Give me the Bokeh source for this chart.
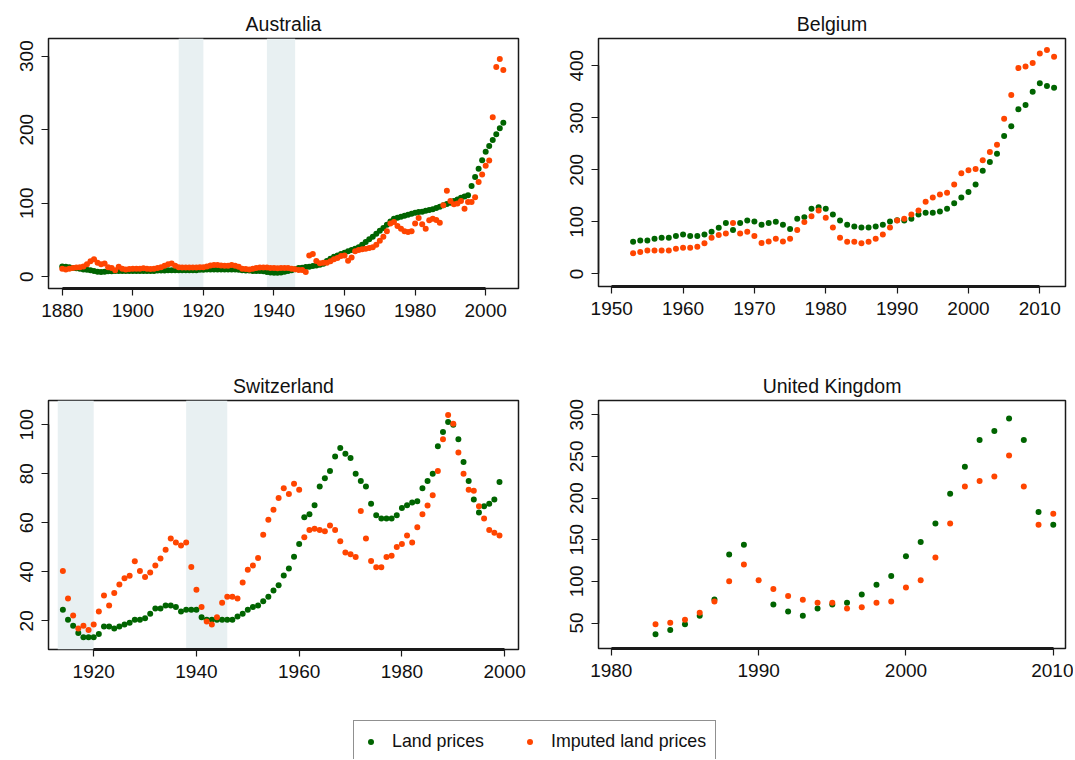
from bokeh.plotting import figure
from bokeh.layouts import column, row
from bokeh.models import BoxAnnotation, Legend, LegendItem, Range1d, FixedTicker, ColumnDataSource
from bokeh.embed import file_html
from bokeh.resources import INLINE

GREEN = "#006400"
ORANGE = "#FF4500"
SHADE = "#E8F0F2"
FONT = "Liberation Sans"

# ---------------- data ----------------
aus_years = list(range(1880, 2006))
aus_land = [
    14, 13.5, 13, 12, 11.5, 11, 10, 9.5, 9, 8,
    7, 6.5, 7, 7.5, 7.5, 8, 8, 8, 8, 8,
    8, 8, 8, 8, 8, 8, 8, 8.5, 8.5, 8.5,
    9, 9, 9, 9, 9, 9, 9, 9, 9, 9.5,
    9.5, 10, 10, 10, 10, 10, 10, 10, 10, 10,
    9.5, 9, 8.5, 8.5, 8, 8, 8, 7.5, 6.5, 6,
    5.5, 5.5, 6, 7, 8, 9,
    10.1, 11.9, 12.4, 13.3, 13.7, 14.6, 15.5, 16.4, 17.8, 21.4,
    24.6, 27.3, 29.1, 30.9, 32.8, 34.6, 36.4, 38.2, 40, 43.6,
    47.3, 50.9, 54.5, 58.6, 62.7, 66.3, 70.8, 75.3, 79, 80.3,
    81.7, 83.1, 84.4, 85.8, 87.1, 88, 88.5, 89.8, 90.7, 91.7,
    93.5, 95.3, 97.1, 98.9, 100.7, 103, 105.2, 107.5, 109.3, 110.7,
    123.4, 135.6, 146.9, 158.3, 170, 177.7, 185.9, 193.6, 201.8, 209.5,
]
aus_imputed = [
    11, 10, 11, 12, 12.5, 13, 14, 17, 21, 24,
    19, 17, 18, 13, 12, 9, 13.5, 11, 10, 10.5,
    11, 11, 11, 11.5, 11, 10.5, 11, 12, 13, 15,
    17, 18, 15, 13, 12.5, 12.5, 12.5, 12.5, 12.5, 13,
    13, 14, 15.5, 16, 16, 15.5, 15, 15, 16, 15,
    13.5, 11, 10.5, 10, 11, 12, 12.5, 12.5, 12.5, 12,
    12, 11.5, 12, 12, 12, 11,
    10.1, 9.2, 9.2, 6.5, 29.1, 30.9, 21.4, 18.3, 19.2, 19.2,
    21, 23.7, 25.5, 28.2, 29.1, 21.9, 26.4, 34.6, 36.4, 37.3,
    38.2, 39.1, 40, 43.6, 49.1, 54.5, 61.8, 72.6, 74.4, 69,
    65.4, 61.8, 60.8, 61.8, 72.6, 79.9, 71.3, 65.4, 76.7, 79,
    77.2, 73.5, 97.1, 117, 103, 98.5, 99.8, 103, 92.6, 101.6,
    101.6, 108, 129, 139, 151, 158, 217, 285, 296, 281,
]

bel_years = list(range(1953, 2013))
bel_land = [
    61.9, 64.4, 64, 67.6, 69.5, 69.5, 72.7, 75.9, 72.7, 72.7,
    75.9, 81, 88.7, 97.6, 84.2, 97.6, 102.7, 100.8, 94.4, 97.6,
    100.2, 94.4, 86.1, 105.9, 109.1, 125, 128.2, 125, 114.2, 102.7,
    94.4, 91.2, 89.3, 89.3, 91.2, 94.4, 100.8, 103, 102.7, 105.9,
    114.2, 117.4, 117.4, 119.9, 125, 135.9, 146.7, 157.6, 171.6, 198.4,
    215, 231, 264.8, 283.9, 316.4, 324.7, 350.2, 366.2, 361.1, 357.9,
]
bel_imputed = [
    39.6, 42, 45, 45, 45, 45, 48.5, 50.4, 50.4, 52.3,
    58.7, 69.5, 74.6, 77.8, 97.6, 77.8, 81, 72.7, 59.3, 62.5,
    67.6, 62.5, 67.6, 84.2, 99.5, 111, 121.9, 107.8, 89.3, 69.5,
    61.9, 61.9, 58.7, 61.9, 67.6, 75.9, 89.3, 102.7, 105.9, 114.2,
    121.9, 138.4, 146.7, 152.5, 155.7, 171.6, 193.3, 199, 201.6, 218.2,
    234.1, 248.2, 297.9, 343.9, 395.5, 398.7, 405.1, 423.6, 430, 417.2,
]

che_years = list(range(1914, 2000))
che_land = [
    24.5, 20.4, 18, 15, 13.3, 13.3, 13.3, 14.6, 17.7, 17.7,
    16.9, 17.7, 18.5, 19.2, 20.4, 20.4, 21.1, 22.9, 25, 25,
    26.3, 26.3, 25.6, 23.8, 24.5, 24.5, 24.5, 21.5, 20.4, 20.4,
    20.4, 20.4, 20.4, 20.4, 21.8, 22.9, 24.5, 25.6, 26.3, 28,
    29.8, 32.4, 34.5, 38.5, 41.4, 46.1, 51.3, 62.3, 63.5, 67.2,
    74.8, 78.2, 81.1, 87.1, 90.5, 88.2, 86.4, 80, 77.1, 74.8,
    67.8, 63.1, 61.8, 61.8, 61.8, 63.1, 66, 67.2, 68.3, 68.8,
    74.1, 77.1, 80, 91.2, 97, 101.1, 100, 94.1, 84.8, 77.1,
    69.5, 64.2, 66.7, 67.8, 69.5, 76.6,
]
che_imputed = [
    40.3, 29.1, 22.2, 16.9, 18, 16.3, 18.5, 23.8, 30.3, 26.3,
    31.4, 34.8, 37.4, 38.4, 44.3, 40.3, 37.9, 39.7, 42.6, 45.4,
    49, 53.6, 52, 50.7, 52, 42, 32.7, 25.6, 19.7, 18.5,
    21.5, 27.4, 29.8, 29.8, 29.1, 35.6, 40.8, 42.6, 45.6, 55.1,
    61.2, 65.3, 70.1, 74.1, 71.8, 75.9, 73.5, 54.1, 57.1, 57.6,
    57.1, 56.5, 58.9, 57.1, 52.5, 47.9, 47.2, 46, 64.8, 53.6,
    44.4, 41.9, 41.9, 46, 46.6, 50.1, 51.3, 54.8, 52, 58.2,
    63.5, 67.1, 71.2, 81.1, 94.1, 104, 100.4, 88.7, 80, 73.5,
    73.1, 66.7, 61.8, 57.1, 55.9, 54.8,
]

NAN = float("nan")
gbr_years = list(range(1983, 2011))
gbr_land = [
    36.5, 41.7, 48.4, 58.7, 78.2, 132.1, 144, NAN, 72.2, 63.9,
    58.7, 67.5, 72.2, 74.2, 84.1, 96, 106.3, 130.2, 147.2, 169.4,
    205.2, 237.7, 269.8, 280.6, 295.6, 269.8, 183.3, 167.9,
]
gbr_imputed = [
    48.4, 50.4, 54, 62.3, 75.8, 100, 120.2, 101.2, 90.9, 82.5,
    77.8, 74.2, 74.2, 67.5, 69, 74.2, 75.8, 92.5, 101.2, 128.6,
    169.4, 213.9, 220.6, 225.8, 251.2, 213.9, 167.9, 181.3,
]

war_periods = [(1913, 1920), (1938, 1946)]

aus_xticks = [1880, 1900, 1920, 1940, 1960, 1980, 2000]
aus_yticks = [0, 100, 200, 300]
bel_xticks = [1950, 1960, 1970, 1980, 1990, 2000, 2010]
bel_yticks = [0, 100, 200, 300, 400]
che_xticks = [1920, 1940, 1960, 1980, 2000]
che_yticks = [20, 40, 60, 80, 100]
gbr_xticks = [1980, 1990, 2000, 2010]
gbr_yticks = [50, 100, 150, 200, 250, 300]


def panel(title, years, land, imputed, xr, yr, xticks, yticks, frame, borders, shade=False):
    fw, fh = frame
    bl, br, bt, bb = borders
    p = figure(frame_width=fw, frame_height=fh,
               min_border_left=bl, min_border_right=br,
               min_border_top=bt, min_border_bottom=bb,
               x_range=Range1d(*xr), y_range=Range1d(*yr),
               toolbar_location=None, output_backend="svg")
    p.title.text = title
    p.title.align = "center"
    p.title.text_font = FONT
    p.title.text_font_size = "19.5px"
    p.title.text_font_style = "normal"
    p.title.text_color = "#111111"
    p.title.standoff = 8
    p.xgrid.visible = False
    p.ygrid.visible = False
    p.outline_line_color = "#1a1a1a"
    p.outline_line_width = 1.5
    p.background_fill_color = "white"
    p.border_fill_color = "white"
    p.xaxis.ticker = FixedTicker(ticks=xticks)
    p.yaxis.ticker = FixedTicker(ticks=yticks)
    p.xaxis.bounds = (xticks[0], xticks[-1])
    p.yaxis.bounds = (yticks[0], yticks[-1])
    for ax in (p.xaxis[0], p.yaxis[0]):
        ax.axis_line_color = "#1a1a1a"
        ax.axis_line_width = 1.5
        ax.major_tick_line_color = "#1a1a1a"
        ax.major_tick_line_width = 1.2
        ax.major_tick_out = 7
        ax.major_tick_in = 0
        ax.minor_tick_line_color = None
        ax.major_label_text_font = FONT
        ax.major_label_text_font_size = "19px"
        ax.major_label_text_color = "#111111"
        ax.major_label_standoff = 8
    p.xaxis[0].axis_line_width = 3
    p.yaxis.major_label_orientation = "vertical"
    if shade:
        for a, b in war_periods:
            p.add_layout(BoxAnnotation(left=a, right=b, fill_color=SHADE, fill_alpha=1,
                                       line_color=None, level="underlay"))
    src = ColumnDataSource(dict(x=years, land=land, imp=imputed))
    p.scatter("x", "land", source=src, size=6, fill_color=GREEN, line_color=None)
    p.scatter("x", "imp", source=src, size=6, fill_color=ORANGE, line_color=None)
    return p


p1 = panel("Australia", aus_years, aus_land, aus_imputed,
           (1876.1, 2009.3), (-15.9, 323.9), aus_xticks, aus_yticks,
           (470, 250), (48, 30, 35, 79), shade=True)
p2 = panel("Belgium", bel_years, bel_land, bel_imputed,
           (1948.15, 2013.6), (-24.2, 452.3), bel_xticks, bel_yticks,
           (467, 248), (50, 8, 38, 78))
p3 = panel("Switzerland", che_years, che_land, che_imputed,
           (1911.2, 2002.7), (8.3, 109.9), che_xticks, che_yticks,
           (470, 249), (48, 30, 35, 65), shade=True)
p4 = panel("United Kingdom", gbr_years, gbr_land, gbr_imputed,
           (1979.13, 2010.83), (19.4, 317.1), gbr_xticks, gbr_yticks,
           (467, 248), (50, 8, 36, 65))

# legend strip
pl = figure(width=1073, height=46, toolbar_location=None, output_backend="svg",
            x_axis_location=None, y_axis_location=None,
            min_border=0, x_range=Range1d(0, 1), y_range=Range1d(0, 1))
pl.xgrid.visible = False
pl.ygrid.visible = False
pl.outline_line_color = None
dummy = ColumnDataSource(dict(x=[NAN], y=[NAN]))
r1 = pl.scatter("x", "y", source=dummy, fill_color=GREEN, line_color=None)
r2 = pl.scatter("x", "y", source=dummy, fill_color=ORANGE, line_color=None)
leg = Legend(items=[LegendItem(label="Land prices", renderers=[r1]),
                    LegendItem(label="Imputed land prices", renderers=[r2])],
             orientation="horizontal", location=(353, -3),
             glyph_width=15, glyph_height=15, label_standoff=14, spacing=38,
             padding=9, margin=0, label_height=22,
             label_text_font=FONT, label_text_font_size="17.8px", label_text_color="#111111",
             border_line_color="#222222", border_line_width=1.3,
             background_fill_color="white", background_fill_alpha=1)
pl.add_layout(leg)

layout = column(row(p1, p2), row(p3, p4), pl)
open("out.html", "w").write(file_html(layout, INLINE))
